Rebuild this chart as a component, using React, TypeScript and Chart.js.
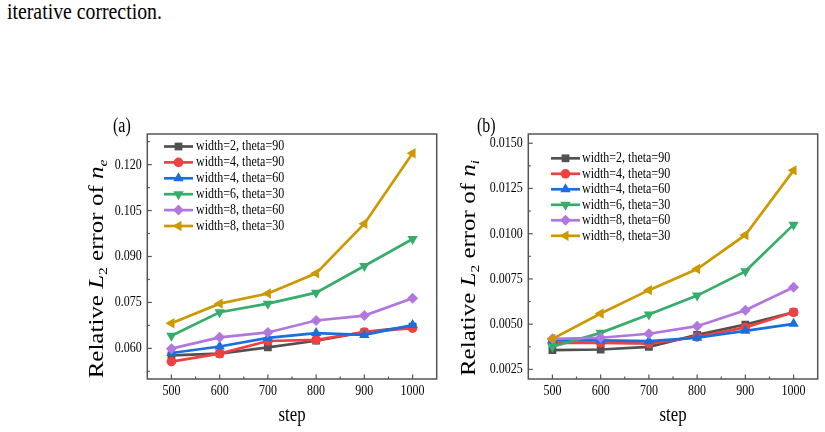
import React, { useEffect, useRef } from 'react';
import { Chart, registerables } from 'chart.js';

Chart.register(...registerables);

// ---------- data ----------
const steps = [500, 600, 700, 800, 900, 1000];
const stepTicks = [500, 600, 700, 800, 900, 1000];
const seriesLabels = [
  'width=2, theta=90',
  'width=4, theta=90',
  'width=4, theta=60',
  'width=6, theta=30',
  'width=8, theta=60',
  'width=8, theta=30',
];

// Relative L2 error of n_e
const neW2T90 = [0.0577, 0.0583, 0.0603, 0.0625, 0.0653, 0.0671];
const neW4T90 = [0.0557, 0.0583, 0.0624, 0.0628, 0.0653, 0.0666];
const neW4T60 = [0.0585, 0.0606, 0.0634, 0.065, 0.0644, 0.0676];
const neW6T30 = [0.0641, 0.0718, 0.0746, 0.0782, 0.0869, 0.0957];
const neW8T60 = [0.0599, 0.0636, 0.0652, 0.0691, 0.0707, 0.0764];
const neW8T30 = [0.0682, 0.0746, 0.0779, 0.0845, 0.1007, 0.1237];
const neTicks = [0.06, 0.075, 0.09, 0.105, 0.12];

// Relative L2 error of n_i
const niW2T90 = [0.00357, 0.0036, 0.00375, 0.00441, 0.00498, 0.00566];
const niW4T90 = [0.00397, 0.00397, 0.00393, 0.0043, 0.00482, 0.00566];
const niW4T60 = [0.0041, 0.0041, 0.00406, 0.00425, 0.00463, 0.00502];
const niW6T30 = [0.00375, 0.00452, 0.00553, 0.00658, 0.00792, 0.0105];
const niW8T60 = [0.00419, 0.00425, 0.00447, 0.00489, 0.00577, 0.00704];
const niW8T30 = [0.00419, 0.00559, 0.00688, 0.00805, 0.00993, 0.0135];
const niTicks = [0.0025, 0.005, 0.0075, 0.01, 0.0125, 0.015];

// ---------- styles ----------
const COLORS = ['#515151', '#F14040', '#1A6FDF', '#37AD6B', '#B177DE', '#CC9900'];
const MARKERS = [
  { style: 'rect', rot: 0, r: 5.5 },
  { style: 'circle', rot: 0, r: 4.8 },
  { style: 'triangle', rot: 0, r: 6 },
  { style: 'triangle', rot: 180, r: 6 },
  { style: 'rectRot', rot: 0, r: 5.5 },
  { style: 'triangle', rot: -90, r: 6 },
];
const SERIF = '"Liberation Serif", "Times New Roman", serif';
const SX = 0.8; // horizontal squeeze of the original figure's text

function drawMarker(ctx: CanvasRenderingContext2D, style: string, rotDeg: number, x: number, y: number, r: number) {
  let rad = (rotDeg * Math.PI) / 180;
  ctx.beginPath();
  if (style === 'circle') {
    ctx.arc(x, y, r, 0, Math.PI * 2);
  } else if (style === 'rect') {
    const s = Math.SQRT1_2 * r;
    ctx.rect(x - s, y - s, 2 * s, 2 * s);
  } else if (style === 'rectRot') {
    ctx.moveTo(x, y - r);
    ctx.lineTo(x + r, y);
    ctx.lineTo(x, y + r);
    ctx.lineTo(x - r, y);
  } else if (style === 'triangle') {
    const T = (2 * Math.PI) / 3;
    ctx.moveTo(x + Math.sin(rad) * r, y - Math.cos(rad) * r);
    rad += T;
    ctx.lineTo(x + Math.sin(rad) * r, y - Math.cos(rad) * r);
    rad += T;
    ctx.lineTo(x + Math.sin(rad) * r, y - Math.cos(rad) * r);
  }
  ctx.closePath();
  ctx.fill();
}

function squeezedText(
  ctx: CanvasRenderingContext2D,
  text: string,
  x: number,
  y: number,
  font: string,
  align: CanvasTextAlign,
  baseline: CanvasTextBaseline
) {
  ctx.save();
  ctx.translate(x, y);
  ctx.scale(SX, 1);
  ctx.font = font;
  ctx.textAlign = align;
  ctx.textBaseline = baseline;
  ctx.fillStyle = '#000';
  ctx.fillText(text, 0, 0);
  ctx.restore();
}

type PanelCfg = {
  canvasLeft: number;
  canvasWidth: number;
  padding: { left: number; top: number; right: number; bottom: number };
  yMin: number;
  yMax: number;
  yTicks: number[];
  yDecimals: number;
  series: number[][];
  label: string;
  labelX: number;
  labelY: number;
  titleX: number;
  titleY: number;
  sub: string;
  legend: { x0: number; x1: number; textX: number; y0: number; dy: number };
};

const leftPanel: PanelCfg = {
  canvasLeft: 0,
  canvasWidth: 445,
  padding: { left: 147.3, top: 134, right: 8.3, bottom: 53 },
  yMin: 0.05,
  yMax: 0.13,
  yTicks: neTicks,
  yDecimals: 3,
  series: [neW2T90, neW4T90, neW4T60, neW6T30, neW8T60, neW8T30],
  label: '(a)',
  labelX: 113,
  labelY: 132,
  titleX: 103,
  titleY: 269,
  sub: 'e',
  legend: { x0: 164, x1: 193, textX: 196, y0: 146.5, dy: 15.9 },
};

const rightPanel: PanelCfg = {
  canvasLeft: 445,
  canvasWidth: 380,
  padding: { left: 83.3, top: 134, right: 7.3, bottom: 53 },
  yMin: 0.00197,
  yMax: 0.01551,
  yTicks: niTicks,
  yDecimals: 4,
  series: [niW2T90, niW4T90, niW4T60, niW6T30, niW8T60, niW8T30],
  label: '(b)',
  labelX: 32,
  labelY: 132,
  titleX: 30,
  titleY: 268,
  sub: 'i',
  legend: { x0: 106, x1: 135, textX: 137, y0: 158.3, dy: 15.5 },
};

function makeDecoPlugin(cfg: PanelCfg) {
  return {
    id: 'deco' + cfg.label,
    afterDraw(chart: any) {
      const ctx: CanvasRenderingContext2D = chart.ctx;
      const { left, right, top, bottom } = chart.chartArea;
      const xs = chart.scales.x;
      const ys = chart.scales.y;
      ctx.save();
      // frame
      ctx.strokeStyle = '#555';
      ctx.lineWidth = 1.5;
      ctx.strokeRect(left, top, right - left, bottom - top);
      // x ticks
      ctx.lineWidth = 1.2;
      const xStep = stepTicks[1] - stepTicks[0];
      const xVals: [number, boolean][] = [];
      stepTicks.forEach((v) => xVals.push([v, true]));
      for (let v = stepTicks[0] - xStep / 2; v <= stepTicks[stepTicks.length - 1] + xStep / 2; v += xStep) {
        xVals.push([v, false]);
      }
      xVals.forEach(([v, major]) => {
        if (v <= xs.min || v >= xs.max) return;
        const px = xs.getPixelForValue(v);
        ctx.beginPath();
        ctx.moveTo(px, bottom);
        ctx.lineTo(px, bottom - (major ? 4.5 : 2.5));
        ctx.stroke();
      });
      // y ticks
      const yt = cfg.yTicks;
      const yStep = yt[1] - yt[0];
      const yVals: [number, boolean][] = [];
      yt.forEach((v) => yVals.push([v, true]));
      for (let k = -1; k < yt.length; k++) yVals.push([yt[0] + (k + 0.5) * yStep, false]);
      yVals.forEach(([v, major]) => {
        if (v <= ys.min || v >= ys.max) return;
        const py = ys.getPixelForValue(v);
        ctx.beginPath();
        ctx.moveTo(left, py);
        ctx.lineTo(left + (major ? 4.5 : 2.5), py);
        ctx.stroke();
      });
      // tick labels
      const tickFont = `15px ${SERIF}`;
      stepTicks.forEach((v) => {
        squeezedText(ctx, String(v), xs.getPixelForValue(v), bottom + 12, tickFont, 'center', 'middle');
      });
      yt.forEach((v) => {
        squeezedText(ctx, v.toFixed(cfg.yDecimals), left - 5.6, ys.getPixelForValue(v), tickFont, 'right', 'middle');
      });
      // x title
      squeezedText(ctx, 'step', (left + right) / 2, 421, `21px ${SERIF}`, 'center', 'alphabetic');
      // panel label
      squeezedText(ctx, cfg.label, cfg.labelX, cfg.labelY, `20px ${SERIF}`, 'left', 'alphabetic');
      // y title (rich text, rotated)
      const size = 25;
      const segs = [
        { t: 'Relative ', it: false, sub: false },
        { t: 'L', it: true, sub: false },
        { t: '2', it: false, sub: true },
        { t: ' error of ', it: false, sub: false },
        { t: 'n', it: true, sub: false },
        { t: cfg.sub, it: true, sub: true },
      ];
      ctx.save();
      ctx.translate(cfg.titleX, cfg.titleY);
      ctx.rotate(-Math.PI / 2);
      ctx.scale(1, SX);
      ctx.fillStyle = '#000';
      ctx.textAlign = 'left';
      ctx.textBaseline = 'alphabetic';
      let total = 0;
      const parts = segs.map((s) => {
        const fs = s.sub ? size * 0.62 : size;
        const font = `${s.it ? 'italic ' : ''}${fs}px ${SERIF}`;
        ctx.font = font;
        const w = ctx.measureText(s.t).width;
        total += w;
        return { ...s, font, w };
      });
      let cx = -total / 2;
      parts.forEach((p) => {
        ctx.font = p.font;
        ctx.fillText(p.t, cx, p.sub ? size * 0.2 : 0);
        cx += p.w;
      });
      ctx.restore();
      // legend
      const lg = cfg.legend;
      seriesLabels.forEach((lab, i) => {
        const y = lg.y0 + i * lg.dy;
        ctx.strokeStyle = COLORS[i];
        ctx.lineWidth = 2.7;
        ctx.beginPath();
        ctx.moveTo(lg.x0, y);
        ctx.lineTo(lg.x1, y);
        ctx.stroke();
        ctx.fillStyle = COLORS[i];
        const m = MARKERS[i];
        drawMarker(ctx, m.style, m.rot, (lg.x0 + lg.x1) / 2, y, m.r);
        squeezedText(ctx, lab, lg.textX, y, `15px ${SERIF}`, 'left', 'middle');
      });
      ctx.restore();
    },
  };
}

function Panel({ cfg }: { cfg: PanelCfg }) {
  const ref = useRef<HTMLCanvasElement | null>(null);
  useEffect(() => {
    if (!ref.current) return;
    const datasets = cfg.series.map((vals, i) => ({
      label: seriesLabels[i],
      data: steps.map((s, j) => ({ x: s, y: vals[j] })),
      borderColor: COLORS[i],
      backgroundColor: COLORS[i],
      borderWidth: 2.7,
      pointStyle: MARKERS[i].style,
      pointRotation: MARKERS[i].rot,
      pointRadius: MARKERS[i].r,
      pointBackgroundColor: COLORS[i],
      pointBorderColor: COLORS[i],
      pointBorderWidth: 0,
      tension: 0,
      fill: false,
      order: cfg.series.length - i,
    }));
    const chart = new Chart(ref.current, {
      type: 'line',
      data: { datasets } as any,
      options: {
        responsive: false,
        animation: false,
        devicePixelRatio: 1,
        events: [],
        layout: { padding: cfg.padding },
        plugins: { legend: { display: false }, tooltip: { enabled: false } },
        scales: {
          x: { type: 'linear', min: 450, max: 1050, display: false },
          y: { type: 'linear', min: cfg.yMin, max: cfg.yMax, display: false },
        },
      } as any,
      plugins: [makeDecoPlugin(cfg)],
    });
    return () => chart.destroy();
  }, [cfg]);
  return (
    <canvas
      ref={ref}
      width={cfg.canvasWidth}
      height={432}
      style={{ position: 'absolute', left: cfg.canvasLeft, top: 0, width: cfg.canvasWidth, height: 432 }}
    />
  );
}

export default function App() {
  return (
    <div style={{ position: 'absolute', left: 0, top: 0, width: 825, height: 432, background: '#fff', overflow: 'hidden' }}>
      <div
        style={{
          position: 'absolute',
          left: 7,
          top: 0,
          fontFamily: SERIF,
          fontSize: 23,
          lineHeight: '23px',
          whiteSpace: 'nowrap',
          transform: 'scaleX(0.86)',
          transformOrigin: 'left top',
          color: '#000',
        }}
      >
        iterative correction.
      </div>
      <Panel cfg={leftPanel} />
      <Panel cfg={rightPanel} />
    </div>
  );
}
